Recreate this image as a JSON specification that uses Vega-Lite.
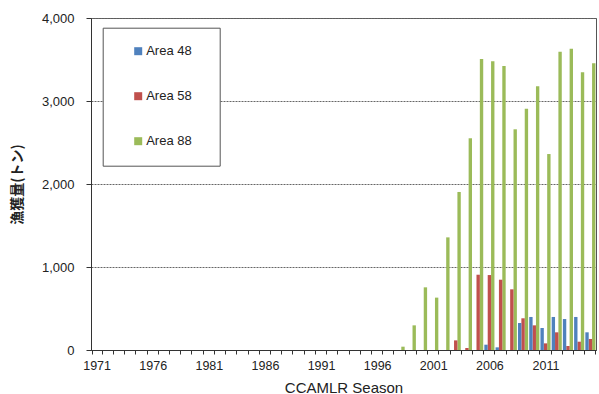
{
  "$schema": "https://vega.github.io/schema/vega-lite/v6.json",
  "width": 505,
  "height": 332,
  "autosize": {"type": "none"},
  "padding": {"left": 91, "top": 18, "right": 3, "bottom": 44},
  "background": "white",
  "config": {
    "view": {"stroke": "#555", "strokeWidth": 1},
    "font": "Liberation Sans",
    "axis": {"domainColor": "#333", "tickColor": "#333", "labelColor": "#222", "titleColor": "#222"}
  },
  "data": {
    "values": [
      {"year": 1998, "area": "Area 88", "catch": 40},
      {"year": 1999, "area": "Area 88", "catch": 297},
      {"year": 2000, "area": "Area 88", "catch": 755},
      {"year": 2001, "area": "Area 88", "catch": 631},
      {"year": 2002, "area": "Area 88", "catch": 1357},
      {"year": 2003, "area": "Area 88", "catch": 1904},
      {"year": 2004, "area": "Area 88", "catch": 2551},
      {"year": 2005, "area": "Area 88", "catch": 3506},
      {"year": 2006, "area": "Area 88", "catch": 3478},
      {"year": 2007, "area": "Area 88", "catch": 3422},
      {"year": 2008, "area": "Area 88", "catch": 2659},
      {"year": 2009, "area": "Area 88", "catch": 2908},
      {"year": 2010, "area": "Area 88", "catch": 3177},
      {"year": 2011, "area": "Area 88", "catch": 2361},
      {"year": 2012, "area": "Area 88", "catch": 3594},
      {"year": 2013, "area": "Area 88", "catch": 3630},
      {"year": 2014, "area": "Area 88", "catch": 3345},
      {"year": 2015, "area": "Area 88", "catch": 3454},
      {"year": 2003, "area": "Area 58", "catch": 116},
      {"year": 2004, "area": "Area 58", "catch": 24},
      {"year": 2005, "area": "Area 58", "catch": 907},
      {"year": 2006, "area": "Area 58", "catch": 903},
      {"year": 2007, "area": "Area 58", "catch": 847},
      {"year": 2008, "area": "Area 58", "catch": 731},
      {"year": 2009, "area": "Area 58", "catch": 382},
      {"year": 2010, "area": "Area 58", "catch": 297},
      {"year": 2011, "area": "Area 58", "catch": 80},
      {"year": 2012, "area": "Area 58", "catch": 213},
      {"year": 2013, "area": "Area 58", "catch": 48},
      {"year": 2014, "area": "Area 58", "catch": 100},
      {"year": 2015, "area": "Area 58", "catch": 133},
      {"year": 2006, "area": "Area 48", "catch": 64},
      {"year": 2007, "area": "Area 48", "catch": 32},
      {"year": 2009, "area": "Area 48", "catch": 325},
      {"year": 2010, "area": "Area 48", "catch": 398},
      {"year": 2011, "area": "Area 48", "catch": 265},
      {"year": 2012, "area": "Area 48", "catch": 398},
      {"year": 2013, "area": "Area 48", "catch": 373},
      {"year": 2014, "area": "Area 48", "catch": 398},
      {"year": 2015, "area": "Area 48", "catch": 213}
    ]
  },
  "mark": {"type": "bar"},
  "encoding": {
    "x": {
      "field": "year",
      "type": "ordinal",
      "scale": {
        "domain": [1971,1972,1973,1974,1975,1976,1977,1978,1979,1980,1981,1982,1983,1984,1985,1986,1987,1988,1989,1990,1991,1992,1993,1994,1995,1996,1997,1998,1999,2000,2001,2002,2003,2004,2005,2006,2007,2008,2009,2010,2011,2012,2013,2014,2015],
        "paddingInner": 0.1,
        "paddingOuter": 0.05
      },
      "axis": {
        "title": "CCAMLR Season",
        "titleFontSize": 15,
        "titleFontWeight": "normal",
        "titleBaseline": "alphabetic",
        "titleY": 42,
        "labelAngle": 0,
        "labelFontSize": 12.5,
        "labelPadding": 5,
        "labelExpr": "(datum.value - 1971) % 5 == 0 ? datum.label : ''",
        "tickBand": "extent",
        "tickSize": 4,
        "grid": false
      }
    },
    "xOffset": {"field": "area", "type": "nominal", "scale": {"paddingInner": 0, "paddingOuter": 0}},
    "y": {
      "field": "catch",
      "type": "quantitative",
      "scale": {"domain": [0, 4000], "nice": false},
      "axis": {
        "title": "漁獲量(トン)",
        "titleFont": "Noto Sans CJK JP",
        "titleFontSize": 14,
        "titleFontWeight": "bold",
        "titleX": -74,
        "titleY": 166,
        "titleAlign": "center",
        "titleBaseline": "middle",
        "values": [0, 1000, 2000, 3000, 4000],
        "format": ",.0f",
        "labelFontSize": 13,
        "labelPadding": 12,
        "tickSize": 5,
        "grid": true,
        "gridColor": "#666",
        "gridDash": [2, 1],
        "gridWidth": 1
      }
    },
    "color": {
      "field": "area",
      "type": "nominal",
      "scale": {"domain": ["Area 48", "Area 58", "Area 88"], "range": ["#4F81BD", "#C0504D", "#9BBB59"]},
      "legend": {
        "orient": "none",
        "legendX": 11.7,
        "legendY": 9.7,
        "title": null,
        "strokeColor": "#555",
        "fillColor": "white",
        "padding": 17,
        "rowPadding": 31,
        "symbolType": "square",
        "symbolSize": 64,
        "symbolStrokeWidth": 0,
        "symbolOffset": 12,
        "labelOffset": 1.5,
        "labelFontSize": 13,
        "labelColor": "#222",
        "labelExpr": "datum.label + '\u2800'"
      }
    }
  }
}
